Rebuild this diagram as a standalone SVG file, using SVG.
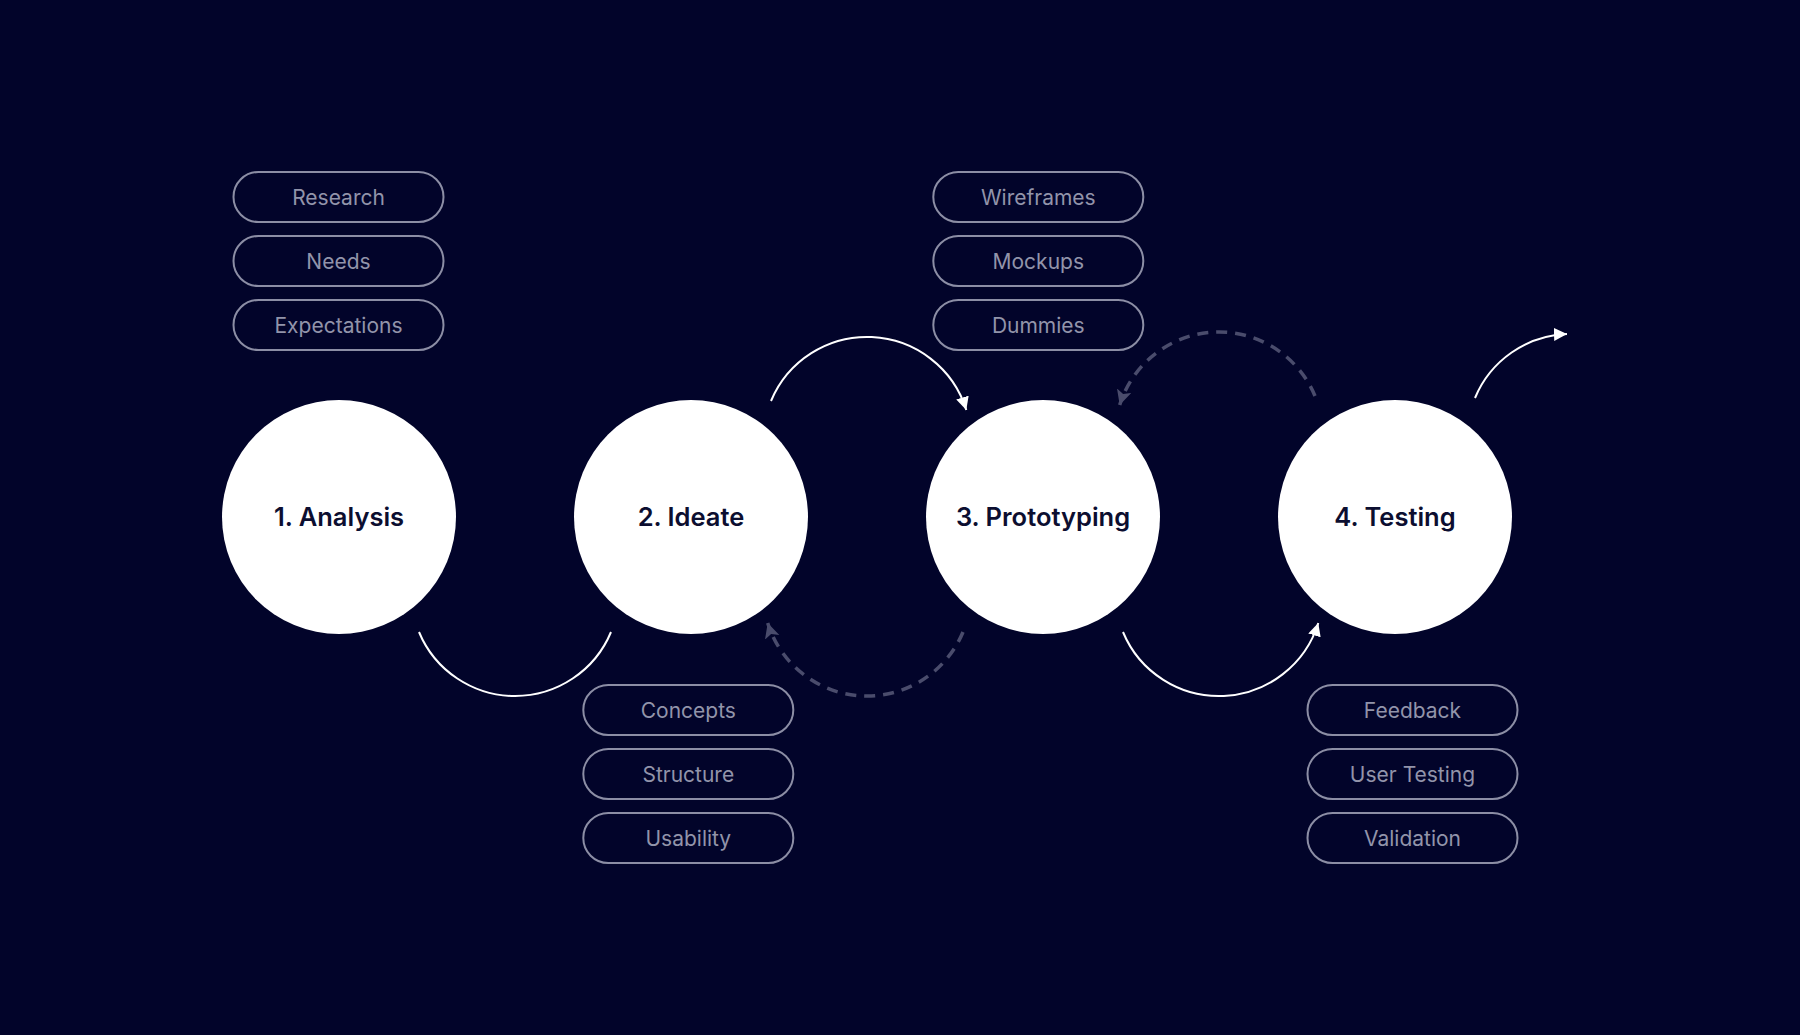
<svg xmlns="http://www.w3.org/2000/svg" width="1800" height="1035" viewBox="0 0 1800 1035">
  <style>
    .bg { fill: #02042a; }
    .step circle { fill: #ffffff; }
    .step text { font-family: Inter, "Noto Sans", "Liberation Sans", sans-serif; font-weight: 600; font-size: 25.5px; fill: #0c0e30; text-anchor: middle; }
    .pill rect { fill: none; stroke: #8c8ea5; stroke-width: 2; }
    .pill text { font-family: Inter, "Noto Sans", "Liberation Sans", sans-serif; font-weight: 400; font-size: 21px; fill: #9294aa; text-anchor: middle; }
    .solid { fill: none; stroke: #ffffff; stroke-width: 2; }
    .dashed { fill: none; stroke: #4a4c6c; stroke-width: 3.5; stroke-dasharray: 11 8; }
  </style>
  <defs>
    <marker id="arrowWhite" markerUnits="userSpaceOnUse" markerWidth="16" markerHeight="14" refX="13" refY="6.5" orient="auto">
      <path d="M0,0 L13,6.5 L0,13 z" fill="#ffffff"/>
    </marker>
    <marker id="arrowGray" markerUnits="userSpaceOnUse" markerWidth="18" markerHeight="16" refX="15" refY="7.5" orient="auto">
      <path d="M0,0 L15,7.5 L0,15 L3.5,7.5 z" fill="#4a4c6c"/>
    </marker>
  </defs>
  <rect class="bg" x="0" y="0" width="1800" height="1035"/>

  <g id="connectors">
    <path id="c-1-2" class="solid" d="M419,632 A104,104 0 0 0 611,632"/>
    <path id="c-2-3" class="solid" d="M771,401 A104,104 0 0 1 966.3,410" marker-end="url(#arrowWhite)"/>
    <path id="c-3-2" class="dashed" d="M963,632 A104,104 0 0 1 767.7,623" marker-end="url(#arrowGray)"/>
    <path id="c-4-3" class="dashed" d="M1315,396 A104,104 0 0 0 1119.7,405" marker-end="url(#arrowGray)"/>
    <path id="c-3-4" class="solid" d="M1123,632 A104,104 0 0 0 1318.3,623" marker-end="url(#arrowWhite)"/>
    <path id="c-4-out" class="solid" d="M1475,398 A104,104 0 0 1 1567,334" marker-end="url(#arrowWhite)"/>
  </g>

  <g id="step-1" class="step">
    <circle cx="339" cy="517" r="117"/>
    <text x="339" y="526">1. Analysis</text>
  </g>
  <g id="step-2" class="step">
    <circle cx="691" cy="517" r="117"/>
    <text x="691" y="526">2. Ideate</text>
  </g>
  <g id="step-3" class="step">
    <circle cx="1043" cy="517" r="117"/>
    <text x="1043" y="526">3. Prototyping</text>
  </g>
  <g id="step-4" class="step">
    <circle cx="1395" cy="517" r="117"/>
    <text x="1395" y="526">4. Testing</text>
  </g>

  <g id="pill-research" class="pill">
    <rect x="233.5" y="172" width="210" height="50" rx="25"/>
    <text x="338.5" y="205">Research</text>
  </g>
  <g id="pill-needs" class="pill">
    <rect x="233.5" y="236" width="210" height="50" rx="25"/>
    <text x="338.5" y="269">Needs</text>
  </g>
  <g id="pill-expectations" class="pill">
    <rect x="233.5" y="300" width="210" height="50" rx="25"/>
    <text x="338.5" y="333">Expectations</text>
  </g>

  <g id="pill-concepts" class="pill">
    <rect x="583.3" y="685" width="210" height="50" rx="25"/>
    <text x="688.3" y="718">Concepts</text>
  </g>
  <g id="pill-structure" class="pill">
    <rect x="583.3" y="749" width="210" height="50" rx="25"/>
    <text x="688.3" y="782">Structure</text>
  </g>
  <g id="pill-usability" class="pill">
    <rect x="583.3" y="813" width="210" height="50" rx="25"/>
    <text x="688.3" y="846">Usability</text>
  </g>

  <g id="pill-wireframes" class="pill">
    <rect x="933.3" y="172" width="210" height="50" rx="25"/>
    <text x="1038.3" y="205">Wireframes</text>
  </g>
  <g id="pill-mockups" class="pill">
    <rect x="933.3" y="236" width="210" height="50" rx="25"/>
    <text x="1038.3" y="269">Mockups</text>
  </g>
  <g id="pill-dummies" class="pill">
    <rect x="933.3" y="300" width="210" height="50" rx="25"/>
    <text x="1038.3" y="333">Dummies</text>
  </g>

  <g id="pill-feedback" class="pill">
    <rect x="1307.5" y="685" width="210" height="50" rx="25"/>
    <text x="1412.5" y="718">Feedback</text>
  </g>
  <g id="pill-user-testing" class="pill">
    <rect x="1307.5" y="749" width="210" height="50" rx="25"/>
    <text x="1412.5" y="782">User Testing</text>
  </g>
  <g id="pill-validation" class="pill">
    <rect x="1307.5" y="813" width="210" height="50" rx="25"/>
    <text x="1412.5" y="846">Validation</text>
  </g>
</svg>
